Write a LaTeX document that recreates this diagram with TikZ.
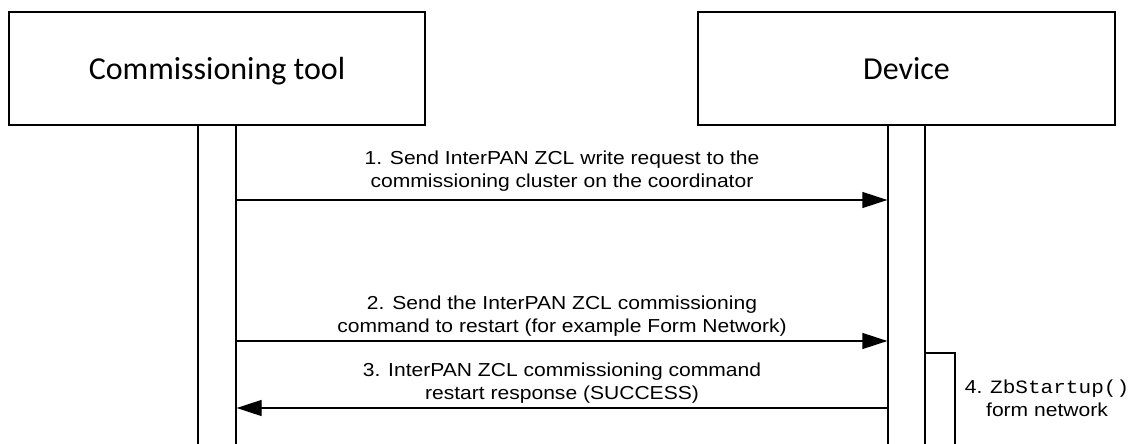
\documentclass[tikz,border=0pt]{standalone}
\usepackage{fontspec}
\setmainfont{Liberation Sans}[FakeStretch=1.12]
\newfontfamily\headfont{Carlito}
\newfontfamily\codefont{Liberation Mono}[FakeStretch=1.12]
\usetikzlibrary{arrows.meta}
\begin{document}
\begin{tikzpicture}[x=1pt,y=-1pt,
  actor/.style={draw, line width=1.3pt, inner sep=0pt, minimum height=113pt,
    font=\headfont\fontsize{32}{38}\selectfont, text height=28pt, text depth=5pt},
  lifebar/.style={draw, line width=1.3pt, inner sep=0pt, fill=white},
  msg/.style={-{Triangle[length=25pt,width=16pt]}, line width=1.3pt},
  note/.style={align=center, inner sep=0pt, anchor=south,
    font=\fontsize{18.8}{23}\selectfont}]
\useasboundingbox (0,0) rectangle (1141,444);
\clip (0,0) rectangle (1141,444);

% participants
\node[actor, minimum width=416pt] (tool) at (217,68.5) {Commissioning tool};
\node[actor, minimum width=417pt] (dev) at (906.5,68.5) {Device};

% lifelines and activation
\node[lifebar, minimum width=38pt, minimum height=321pt] (lifeA) at (217,285.5) {};
\node[lifebar, minimum width=37pt, minimum height=321pt] (lifeB) at (906.5,285.5) {};
\node[lifebar, minimum width=30pt, minimum height=93pt] (act) at (940,399.5) {};

% message end points
\coordinate (m1s) at (lifeA.east |- 0,200);
\coordinate (m1e) at (lifeB.west |- 0,200);
\coordinate (m2s) at (lifeA.east |- 0,341);
\coordinate (m2e) at (lifeB.west |- 0,341);
\coordinate (m3s) at (lifeB.west |- 0,408);
\coordinate (m3e) at (lifeA.east |- 0,408);

% messages
\draw[msg] (m1s) -- (m1e);
\draw[msg] (m2s) -- (m2e);
\draw[msg] (m3s) -- (m3e);

% labels
\node[note] (t1) at (562,192) {1. Send InterPAN ZCL write request to the\\commissioning cluster on the coordinator};
\node[note] (t2) at (562,337) {2. Send the InterPAN ZCL commissioning\\command to restart (for example Form Network)};
\node[note] (t3) at (562,404) {3. InterPAN ZCL commissioning command\\restart response (SUCCESS)};
\node[note] (t4) at (1047,417) {4. {\codefont ZbStartup()}\\form network};
\end{tikzpicture}
\end{document}
